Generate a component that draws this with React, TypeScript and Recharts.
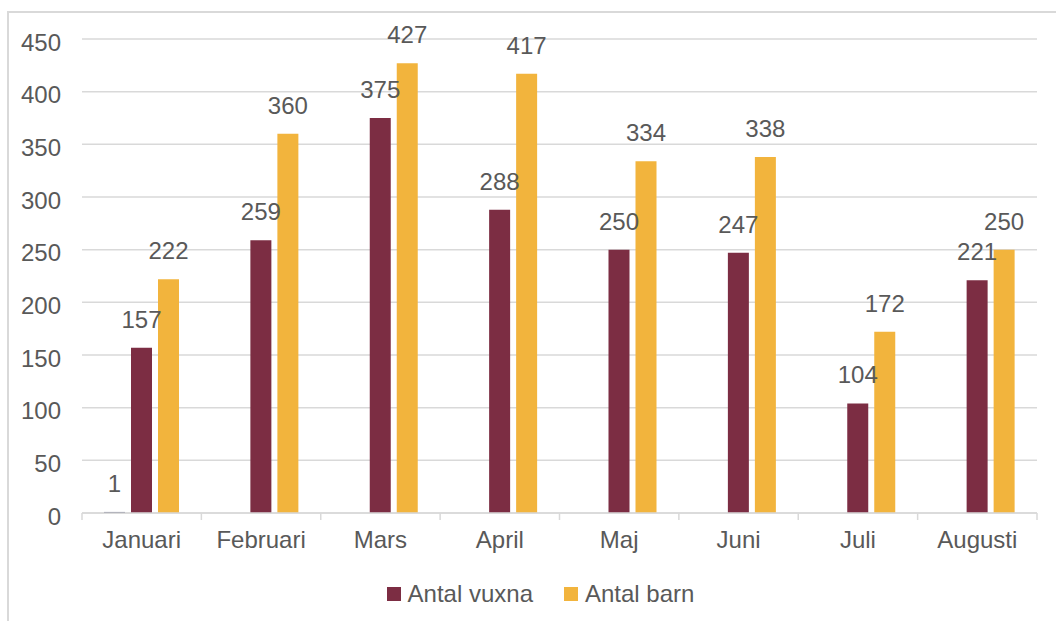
import { Bar, BarChart, CartesianGrid, LabelList, Legend, XAxis, YAxis } from "recharts";

const months = ["Januari", "Februari", "Mars", "April", "Maj", "Juni", "Juli", "Augusti"];
const extra = [1, null, null, null, null, null, null, null];
const vuxna = [157, 259, 375, 288, 250, 247, 104, 221];
const barn = [222, 360, 427, 417, 334, 338, 172, 250];
const yTicks = [0, 50, 100, 150, 200, 250, 300, 350, 400, 450];
const legendOrder = ["Antal vuxna", "Antal barn"];

const data = months.map((m, i) => ({ month: m, extra: extra[i], vuxna: vuxna[i], barn: barn[i] }));

const FONT = '"Liberation Sans", Arial, sans-serif';
const TEXT = "#595959";
const GRID = "#D9D9D9";
const MAROON = "#7C2D43";
const YELLOW = "#F2B43D";
const SLATE = "#44486A";

const W = 1056;
const H = 621;
const M = { top: 39, right: 19, left: 0, bottom: 58 };
const Y_W = 82;
const BAND = (W - M.right - M.left - Y_W) / months.length;

function MonthTick(props: any) {
  const { x, y, index } = props;
  const left = x - BAND / 2;
  const right = x + BAND / 2;
  return (
    <g>
      <line x1={left} y1={y} x2={left} y2={y + 7} stroke={GRID} strokeWidth={1.5} />
      {index === months.length - 1 && (
        <line x1={right} y1={y} x2={right} y2={y + 7} stroke={GRID} strokeWidth={1.5} />
      )}
      <text x={x} y={y + 18} dy="0.71em" textAnchor="middle" fill={TEXT} fontSize={24} fontFamily={FONT}>
        {props.payload.value}
      </text>
    </g>
  );
}

function LegendBox(props: any) {
  const items = (props.payload || [])
    .filter((p: any) => p.type !== "none" && legendOrder.includes(p.value))
    .sort((a: any, b: any) => legendOrder.indexOf(a.value) - legendOrder.indexOf(b.value));
  return (
    <div style={{ display: "flex", justifyContent: "center", alignItems: "center", gap: 31, height: 24 }}>
      {items.map((p: any) => (
        <div key={p.value} style={{ display: "flex", alignItems: "center" }}>
          <span style={{ width: 14, height: 14, background: p.color, marginRight: 7, display: "inline-block" }} />
          <span style={{ fontSize: 24, lineHeight: "24px", color: TEXT, fontFamily: FONT }}>{p.value}</span>
        </div>
      ))}
    </div>
  );
}

const labelStyle = { fontSize: 24, fill: TEXT, fontFamily: FONT };

export default function App() {
  return (
    <div style={{ position: "fixed", left: 0, top: 0, width: W, height: H, overflow: "hidden", background: "#fff" }}>
      <div
        style={{
          position: "absolute",
          left: 7,
          top: 11,
          width: 1100,
          height: 700,
          border: `2px solid ${GRID}`,
        }}
      />
      <div style={{ position: "absolute", left: 0, top: 0 }}>
        <BarChart width={W} height={H} data={data} margin={M} barGap={6} barSize={21}>
          <CartesianGrid vertical={false} stroke={GRID} strokeWidth={1.5} />
          <XAxis
            dataKey="month"
            height={50}
            tickLine={false}
            tickSize={0}
            tickMargin={0}
            axisLine={{ stroke: GRID, strokeWidth: 1.5 }}
            tick={<MonthTick />}
            interval={0}
          />
          <YAxis
            width={Y_W}
            domain={[0, 450]}
            ticks={yTicks}
            axisLine={false}
            tickLine={false}
            tickMargin={15}
            tick={{ fontSize: 24, fill: TEXT, fontFamily: FONT, dy: 3 }}
          />
          <Legend
            layout="horizontal"
            verticalAlign="middle"
            align="center"
            wrapperStyle={{ top: 582, left: 25, width: 1031 }}
            content={<LegendBox />}
          />
          <Bar dataKey="extra" name="extra" fill={SLATE} legendType="none" isAnimationActive={false}>
            <LabelList dataKey="extra" position="top" offset={20} style={labelStyle} formatter={(v: any) => (v == null ? "" : v)} />
          </Bar>
          <Bar dataKey="vuxna" name="Antal vuxna" fill={MAROON} isAnimationActive={false}>
            <LabelList dataKey="vuxna" position="top" offset={20} style={labelStyle} />
          </Bar>
          <Bar dataKey="barn" name="Antal barn" fill={YELLOW} isAnimationActive={false}>
            <LabelList dataKey="barn" position="top" offset={20} style={labelStyle} />
          </Bar>
        </BarChart>
      </div>
    </div>
  );
}
